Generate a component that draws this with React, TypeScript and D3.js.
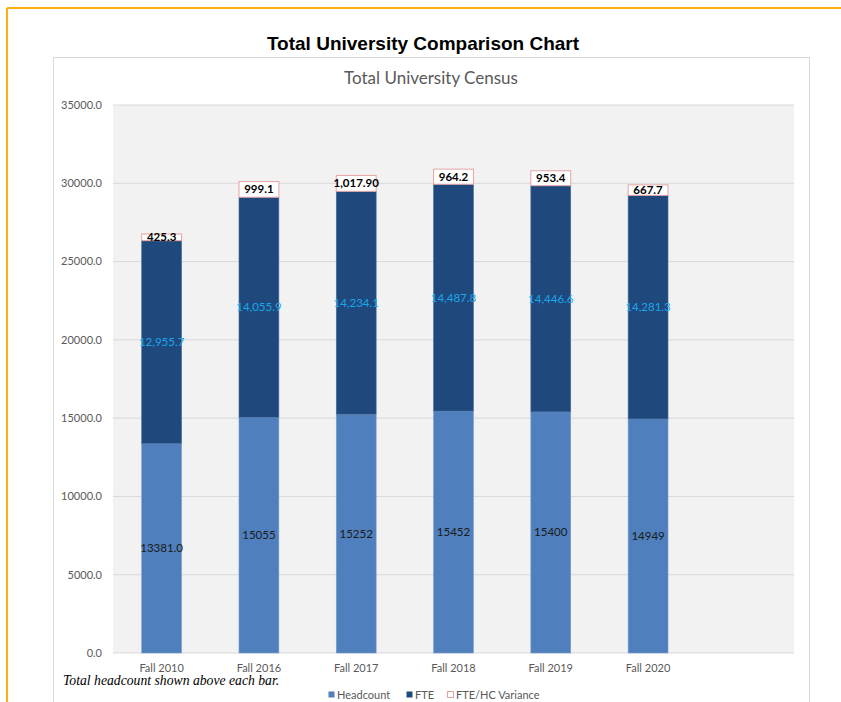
import React from "react";
import * as d3 from "d3";

const categories = ["Fall 2010", "Fall 2016", "Fall 2017", "Fall 2018", "Fall 2019", "Fall 2020"];
const headcount = [13381.0, 15055, 15252, 15452, 15400, 14949];
const headcountLabels = ["13381.0", "15055", "15252", "15452", "15400", "14949"];
const fte = [12955.7, 14055.9, 14234.1, 14487.8, 14446.6, 14281.3];
const fteLabels = ["12,955.7", "14,055.9", "14,234.1", "14,487.8", "14,446.6", "14,281.3"];
const variance = [425.3, 999.1, 1017.9, 964.2, 953.4, 667.7];
const varianceLabels = ["425.3", "999.1", "1,017.90", "964.2", "953.4", "667.7"];
const yTicks = [0, 5000, 10000, 15000, 20000, 25000, 30000, 35000];
const legendItems = ["Headcount", "FTE", "FTE/HC Variance"];

const W = 841;
const H = 702;
const plot = { left: 113, right: 794, top: 105, bottom: 653 };
const FONT = "Lato, 'Open Sans', sans-serif";
const C_HC = "#4F7FBD";
const C_FTE = "#1F497D";
const C_VAR_STROKE = "#E4A3A3";
const C_AXIS = "#595959";

export default function App() {
  const x = d3
    .scaleBand<string>()
    .domain([...categories, "__blank"])
    .range([plot.left, plot.right])
    .paddingInner(0.59)
    .paddingOuter(0.295);
  const y = d3.scaleLinear().domain([0, 35000]).range([plot.bottom, plot.top]);
  const bw = x.bandwidth();

  const legendX = [328, 406, 447];

  return (
    <svg
      width={W}
      height={H}
      style={{ position: "absolute", left: 0, top: 0, background: "#fff" }}
    >
      {/* orange frame */}
      <line x1={7} y1={8} x2={W} y2={8} stroke="#FFB20F" strokeWidth={2} />
      <line x1={7} y1={8} x2={7} y2={H} stroke="#FFB20F" strokeWidth={2} />

      <text
        x={423}
        y={50}
        textAnchor="middle"
        fontFamily="Arial, 'Liberation Sans', sans-serif"
        fontWeight="bold"
        fontSize={19}
        fill="#000"
      >
        Total University Comparison Chart
      </text>

      {/* chart box */}
      <rect x={53.5} y={57.5} width={756} height={H + 10} fill="#fff" stroke="#D9D9D9" strokeWidth={1} />

      <text x={431} y={84} textAnchor="middle" fontFamily={FONT} fontSize={17} fill={C_AXIS}>
        Total University Census
      </text>

      {/* plot area */}
      <rect
        x={plot.left}
        y={plot.top}
        width={plot.right - plot.left}
        height={plot.bottom - plot.top}
        fill="#F2F2F2"
      />
      {yTicks.map((t) => (
        <g key={t}>
          <line
            x1={plot.left}
            x2={plot.right}
            y1={y(t)}
            y2={y(t)}
            stroke="#D9D9D9"
            strokeWidth={1}
          />
          <text
            x={102}
            y={y(t)}
            dy="0.35em"
            textAnchor="end"
            fontFamily={FONT}
            fontSize={11}
            fill={C_AXIS}
          >
            {t.toFixed(1)}
          </text>
        </g>
      ))}

      {categories.map((c, i) => {
        const x0 = x(c) as number;
        const cx = x0 + bw / 2;
        const hc0 = y(0);
        const hc1 = y(headcount[i]);
        const f1 = y(headcount[i] + fte[i]);
        const v1 = y(headcount[i] + fte[i] + variance[i]);
        return (
          <g key={c}>
            <rect x={x0} y={hc1} width={bw} height={hc0 - hc1} fill={C_HC} stroke="#7C9FCD" strokeWidth={0.6} />
            <rect x={x0} y={f1} width={bw} height={hc1 - f1} fill={C_FTE} stroke="#4A6E9E" strokeWidth={0.6} />
            <rect x={x0} y={v1} width={bw} height={f1 - v1} fill="#fff" stroke={C_VAR_STROKE} strokeWidth={1} />
            <text
              x={cx}
              y={(hc0 + hc1) / 2}
              dy="0.35em"
              textAnchor="middle"
              fontFamily={FONT}
              fontSize={11.5}
              fill="#1a1a1a"
            >
              {headcountLabels[i]}
            </text>
            <text
              x={cx}
              y={(hc1 + f1) / 2}
              dy="0.35em"
              textAnchor="middle"
              fontFamily={FONT}
              fontSize={11.5}
              fill="#1BA6EA"
            >
              {fteLabels[i]}
            </text>
            <text
              x={cx}
              y={(f1 + v1) / 2}
              dy="0.35em"
              textAnchor="middle"
              fontFamily={FONT}
              fontWeight="bold"
              fontSize={11.5}
              fill="#000"
            >
              {varianceLabels[i]}
            </text>
            <text
              x={cx}
              y={668}
              dy="0.35em"
              textAnchor="middle"
              fontFamily={FONT}
              fontSize={11}
              fill={C_AXIS}
            >
              {c}
            </text>
          </g>
        );
      })}

      <text
        x={63}
        y={685}
        fontFamily="'Liberation Serif', 'Times New Roman', serif"
        fontStyle="italic"
        fontSize={13.7}
        fill="#000"
      >
        Total headcount shown above each bar.
      </text>

      {legendItems.map((name, i) => (
        <g key={name}>
          <rect
            x={legendX[i] + 0.5}
            y={691.5}
            width={6}
            height={6}
            fill={i === 0 ? C_HC : i === 1 ? C_FTE : "#fff"}
            stroke={i === 2 ? C_VAR_STROKE : "none"}
            strokeWidth={1}
          />
          <text
            x={legendX[i] + 9}
            y={695}
            dy="0.35em"
            fontFamily={FONT}
            fontSize={11}
            fill={C_AXIS}
          >
            {name}
          </text>
        </g>
      ))}
    </svg>
  );
}
